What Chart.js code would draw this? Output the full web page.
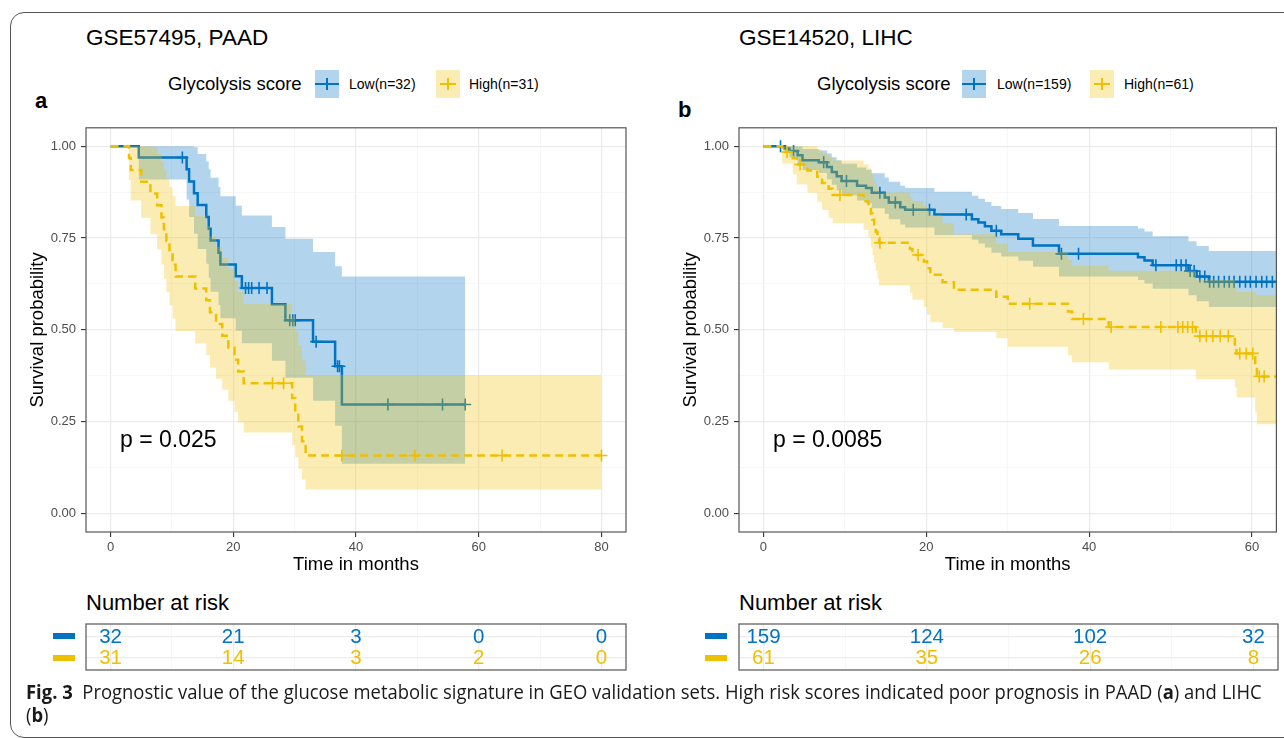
<!DOCTYPE html>
<html>
<head>
<meta charset="utf-8">
<script src="https://cdn.jsdelivr.net/npm/chart.js@4.4.0/dist/chart.umd.min.js"></script>
<style>
body { margin: 0; background: #fff; }
#page { position: relative; width: 1284px; height: 738px; overflow: hidden; font-family: "Liberation Sans", Arial, sans-serif; color: #000; }
.t { position: absolute; white-space: nowrap; line-height: 1; }
canvas { position: absolute; }
.key { position: absolute; width: 24px; height: 28px; }
.kh { position: absolute; left: 0; right: 0; top: 13px; height: 2.4px; }
.kv { position: absolute; left: 11px; top: 8px; width: 1.7px; height: 12px; }
.bar { position: absolute; width: 22px; height: 6px; }
.cap { position: absolute; white-space: nowrap; font-family: "Open Sans", sans-serif; font-size: 20px; line-height: 1; color: #1a1a1a; transform-origin: 0 0; }
</style>
</head>
<body>
<div id="page">
  <div style="position:absolute;left:10px;top:12px;width:1300px;height:724px;border:1px solid #555;border-radius:14px;"></div>

  <div class="t" style="left:86px;top:27px;font-size:22.5px;">GSE57495, PAAD</div>
  <div class="t" style="left:739px;top:27px;font-size:22.5px;">GSE14520, LIHC</div>

  <div class="t" style="left:168px;top:75px;font-size:18.5px;">Glycolysis score</div>
  <div class="key" style="left:315px;top:70px;background:rgba(0,115,194,0.3);"><div class="kh" style="background:#0073C2"></div><div class="kv" style="background:#0073C2"></div></div>
  <div class="t" style="left:349px;top:77px;font-size:14px;">Low(n=32)</div>
  <div class="key" style="left:436px;top:70px;background:rgba(239,192,0,0.3);"><div class="kh" style="left:4px;right:4px;background:#EFC000"></div><div class="kv" style="background:#EFC000"></div></div>
  <div class="t" style="left:469px;top:77px;font-size:14px;">High(n=31)</div>

  <div class="t" style="left:817px;top:75px;font-size:18.5px;">Glycolysis score</div>
  <div class="key" style="left:962px;top:70px;background:rgba(0,115,194,0.3);"><div class="kh" style="background:#0073C2"></div><div class="kv" style="background:#0073C2"></div></div>
  <div class="t" style="left:997px;top:77px;font-size:14px;">Low(n=159)</div>
  <div class="key" style="left:1090px;top:70px;background:rgba(239,192,0,0.3);"><div class="kh" style="left:4px;right:4px;background:#EFC000"></div><div class="kv" style="background:#EFC000"></div></div>
  <div class="t" style="left:1124px;top:77px;font-size:14px;">High(n=61)</div>

  <div class="t" style="left:35px;top:90px;font-size:22px;font-weight:bold;">a</div>
  <div class="t" style="left:678px;top:99px;font-size:22px;font-weight:bold;">b</div>

  <canvas id="kmA" width="640" height="461" style="left:0;top:115px;width:640px;height:461px;"></canvas>
  <canvas id="kmB" width="631" height="461" style="left:653px;top:115px;width:631px;height:461px;"></canvas>

  <div class="t" style="left:120px;top:428px;font-size:23px;">p = 0.025</div>
  <div class="t" style="left:773px;top:428px;font-size:23px;">p = 0.0085</div>

  <div class="t" style="left:86px;top:592px;font-size:22px;">Number at risk</div>
  <div class="t" style="left:739px;top:592px;font-size:22px;">Number at risk</div>
  <div class="bar" style="left:53px;top:633px;background:#0073C2;"></div>
  <div class="bar" style="left:53px;top:655px;background:#EFC000;"></div>
  <div class="bar" style="left:705px;top:633px;background:#0073C2;"></div>
  <div class="bar" style="left:705px;top:655px;background:#EFC000;"></div>

  <canvas id="riskA" width="640" height="92" style="left:0;top:590px;width:640px;height:92px;"></canvas>
  <canvas id="riskB" width="631" height="92" style="left:653px;top:590px;width:631px;height:92px;"></canvas>

  <div class="cap" id="cap1" style="left:26px;top:682px;"><b>Fig. 3</b>&nbsp; Prognostic value of the glucose metabolic signature in GEO validation sets. High risk scores indicated poor prognosis in PAAD (<b>a</b>) and LIHC</div>
  <div class="cap" id="cap2" style="left:26px;top:705px;">(<b>b</b>)</div>
</div>

<script>
// ---- panel a: GSE57495, PAAD ----
var aLowTime  = [0, 4.6, 12.4, 12.8, 13.6, 14.2, 15.6, 16.0, 16.3, 17.6, 17.9, 20.4, 21.4, 26.3, 28.5, 33.0, 36.6, 37.7];
var aLowSurv  = [1, .969, .937, .904, .872, .840, .807, .775, .743, .710, .678, .646, .614, .570, .526, .468, .401, .297];
var aLowUpper = [1, 1, 1, 1, .997, .979, .958, .937, .914, .889, .864, .838, .811, .780, .748, .712, .673, .645];
var aLowLower = [1, .909, .855, .807, .762, .720, .680, .641, .604, .568, .532, .498, .464, .416, .370, .307, .239, .136];
var aLowEnd = 57.8;
var aLowCensor = [11.7, 22.0, 22.5, 23.0, 24.2, 25.5, 29.2, 29.7, 30.1, 33.5, 37.0, 37.3, 45.2, 54.1, 57.8];

var aHighTime  = [0, 3.0, 3.3, 5.0, 6.5, 7.6, 8.3, 8.7, 9.1, 9.6, 10.1, 10.6, 13.8, 15.6, 16.2, 17.2, 18.2, 19.2, 20.2, 20.8, 21.7, 29.6, 30.1, 30.6, 31.2, 31.8];
var aHighSurv  = [1, .968, .935, .903, .871, .839, .806, .774, .742, .710, .677, .645, .613, .581, .548, .516, .484, .452, .419, .387, .355, .315, .276, .237, .197, .158];
var aHighUpper = [1, 1, 1, 1, .997, .979, .958, .936, .913, .889, .864, .837, .811, .783, .754, .726, .696, .666, .634, .603, .571, .534, .497, .459, .419, .377];
var aHighLower = [1, .908, .852, .805, .760, .719, .678, .640, .603, .567, .531, .497, .463, .431, .398, .367, .337, .307, .277, .248, .221, .186, .153, .122, .093, .066];
var aHighEnd = 80;
var aHighCensor = [26.4, 28.2, 37.7, 49.6, 63.8, 80];

// ---- panel b: GSE14520, LIHC ----
var bLowTime  = [0, 2.6, 3.2, 4.2, 4.8, 6.8, 7.8, 8.4, 9.0, 9.6, 11.5, 12.6, 13.3, 14.9, 15.4, 16.8, 17.4, 21.0, 25.6, 26.4, 27.2, 28.0, 29.2, 31.3, 33.1, 36.3, 46.0, 46.8, 47.8, 52.2, 53.2, 54.7];
var bLowSurv  = [1, .994, .987, .975, .962, .956, .943, .930, .918, .905, .892, .886, .873, .860, .847, .834, .827, .814, .801, .792, .782, .770, .760, .748, .730, .707, .698, .689, .676, .660, .645, .631];
var bLowUpper = [1, 1, 1, .999, .992, .988, .980, .970, .962, .952, .942, .936, .926, .915, .903, .892, .886, .876, .865, .857, .848, .837, .829, .818, .802, .783, .776, .768, .755, .741, .728, .715];
var bLowLower = [1, .982, .970, .951, .935, .927, .910, .895, .880, .866, .852, .845, .831, .816, .801, .787, .779, .758, .745, .735, .724, .710, .700, .688, .672, .645, .636, .626, .612, .594, .578, .562];
var bLowEnd = 63.5;
var bLowCensor = [2.1, 3.7, 7.4, 10.2, 14.3, 16.2, 18.4, 20.4, 24.9, 28.6, 36.6, 38.7, 48.2, 50.7, 51.3, 51.9, 52.4, 52.9, 53.6, 54.2, 54.8, 55.3, 55.9, 56.6, 57.2, 57.8, 58.5, 59.2, 59.8, 60.5, 61.2, 61.8, 62.5];

var bHighTime  = [0, 2.3, 3.6, 4.1, 5.4, 6.6, 7.2, 8.0, 8.5, 12.3, 12.9, 13.2, 13.4, 13.6, 13.8, 14.0, 14.2, 18.0, 18.3, 19.7, 20.1, 20.5, 22.0, 23.4, 28.6, 30.0, 37.4, 37.9, 42.4, 53.1, 57.9, 58.1, 60.4, 60.6];
var bHighSurv  = [1, .984, .967, .950, .934, .917, .900, .884, .867, .850, .834, .817, .800, .784, .767, .751, .737, .720, .704, .686, .668, .650, .630, .609, .590, .571, .550, .530, .508, .483, .460, .436, .405, .373];
var bHighUpper = [1, 1, 1, 1, 1, .991, .981, .972, .961, .950, .940, .928, .917, .906, .894, .883, .874, .862, .851, .838, .825, .812, .790, .760, .735, .712, .690, .675, .661, .637, .617, .603, .598, .594];
var bHighLower = [1, .953, .923, .896, .873, .849, .826, .805, .790, .772, .752, .725, .703, .683, .661, .640, .621, .601, .582, .562, .541, .521, .505, .495, .477, .454, .430, .412, .392, .366, .343, .316, .276, .243];
var bHighEnd = 63.5;
var bHighCensor = [2.9, 4.5, 9.4, 14.3, 19.0, 32.7, 39.3, 42.7, 48.8, 50.9, 51.5, 52.1, 52.7, 53.6, 54.4, 55.2, 56.1, 57.1, 58.5, 59.3, 60.1, 60.9, 61.5];

// ---- axes and risk tables ----
var yTicks = [0, 0.25, 0.5, 0.75, 1];
var xTicksA = [0, 20, 40, 60, 80];
var xTicksB = [0, 20, 40, 60];
var riskTimesA = [0, 20, 40, 60, 80];
var riskLowA = [32, 21, 3, 0, 0];
var riskHighA = [31, 14, 3, 2, 0];
var riskTimesB = [0, 20, 40, 60];
var riskLowB = [159, 124, 102, 32];
var riskHighB = [61, 35, 26, 8];

var FONT = '"Liberation Sans", Arial, sans-serif';
var BLUE = '#0073C2', YELLOW = '#EFC000';
var BLUE_BAND = 'rgba(0,115,194,0.3)', YELLOW_BAND = 'rgba(239,192,0,0.3)';

// major ticks plus the minor lines half way between them
function withMinor(major) {
    var out = [];
    major.forEach(function (v, i) {
        out.push(v);
        if (i < major.length - 1) out.push((v + major[i + 1]) / 2);
    });
    return out;
}

function steps(times, vals, end) {
    var pts = times.map(function (t, i) { return {x: t, y: vals[i]}; });
    pts.push({x: end, y: vals[vals.length - 1]});
    return pts;
}
function survAt(times, surv, t) {
    var s = surv[0];
    for (var i = 0; i < times.length; i++) {
        if (times[i] <= t) s = surv[i];
    }
    return s;
}
function marks(times, surv, cens) {
    return cens.map(function (t) { return {x: t, y: survAt(times, surv, t)}; });
}

function groupSets(time, surv, upper, lower, end, cens, color, band, dashed, base) {
    var none = 'rgba(0,0,0,0)';
    return [
        {data: steps(time, upper, end), stepped: true, borderColor: none, borderWidth: 0, pointRadius: 0, fill: false, order: base + 2},
        {data: steps(time, lower, end), stepped: true, borderColor: none, borderWidth: 0, pointRadius: 0, fill: '-1', backgroundColor: band, order: base + 2},
        {data: steps(time, surv, end), stepped: true, borderColor: color, borderWidth: 2.5, borderDash: dashed ? [8, 5] : [], pointRadius: 0, fill: false, order: base + 1},
        {data: marks(time, surv, cens), showLine: false, pointStyle: 'cross', pointRadius: 6, pointBorderWidth: 1.6, borderColor: color, backgroundColor: color, order: base}
    ];
}

var framePlugin = {
    id: 'frame',
    afterDraw: function (chart) {
        var a = chart.chartArea, c = chart.ctx;
        c.save();
        c.strokeStyle = '#555';
        c.lineWidth = 1.2;
        c.strokeRect(a.left, a.top, a.right - a.left, a.bottom - a.top);
        c.restore();
    }
};

var riskTextPlugin = {
    id: 'riskText',
    afterDraw: function (chart, args, opts) {
        var c = chart.ctx, xs = chart.scales.x, ys = chart.scales.y;
        c.save();
        c.font = '20.5px ' + FONT;
        c.textAlign = 'center';
        c.textBaseline = 'middle';
        opts.rows.forEach(function (row) {
            c.fillStyle = row.color;
            row.values.forEach(function (v, i) {
                c.fillText(String(v), xs.getPixelForValue(opts.times[i]), ys.getPixelForValue(row.y) + 1);
            });
        });
        c.restore();
    }
};

function gridOpts(major) {
    function isMajor(c) { return c.tick && major.indexOf(c.tick.value) >= 0; }
    return {
        color: function (c) { return isMajor(c) ? '#EBEBEB' : '#F3F3F3'; },
        lineWidth: function (c) { return isMajor(c) ? 1.2 : 0.7; },
        tickColor: function (c) { return isMajor(c) ? '#333' : 'rgba(0,0,0,0)'; },
        tickWidth: 1.1,
        tickLength: 5
    };
}

function kmChart(id, xMin, xMax, xTicks, sets, padRight) {
    var xGrid = withMinor(xTicks), yGrid = withMinor(yTicks);
    return new Chart(document.getElementById(id), {
        type: 'line',
        data: {datasets: sets},
        options: {
            responsive: false,
            animation: false,
            events: [],
            layout: {padding: {left: 14, right: padRight, top: 10, bottom: 0}},
            plugins: {legend: {display: false}, tooltip: {enabled: false}},
            scales: {
                x: {
                    type: 'linear', min: xMin, max: xMax,
                    afterBuildTicks: function (s) { s.ticks = xGrid.map(function (v) { return {value: v}; }); },
                    afterFit: function (s) { s.height = 44; },
                    ticks: {
                        autoSkip: false, maxRotation: 0, padding: 3, color: '#4D4D4D',
                        font: {family: FONT, size: 13},
                        callback: function (v) { return xTicks.indexOf(v) >= 0 ? String(v) : ''; }
                    },
                    grid: gridOpts(xTicks),
                    border: {display: false},
                    title: {display: true, text: 'Time in months', color: '#000', font: {family: FONT, size: 18.5}, padding: {top: 0, bottom: 0}}
                },
                y: {
                    type: 'linear', min: -0.05, max: 1.05,
                    afterBuildTicks: function (s) { s.ticks = yGrid.map(function (v) { return {value: v}; }); },
                    afterFit: function (s) { s.width = 72; },
                    ticks: {
                        autoSkip: false, padding: 5, color: '#4D4D4D',
                        font: {family: FONT, size: 13},
                        callback: function (v) { return yTicks.indexOf(v) >= 0 ? v.toFixed(2) : ''; }
                    },
                    grid: gridOpts(yTicks),
                    border: {display: false},
                    title: {display: true, text: 'Survival probability', color: '#000', font: {family: FONT, size: 18.5}, padding: {top: 13, bottom: 0}}
                }
            }
        },
        plugins: [framePlugin]
    });
}

function riskChart(id, xMin, xMax, xTicks, times, low, high, padRight) {
    var xGrid = withMinor(xTicks);
    return new Chart(document.getElementById(id), {
        type: 'line',
        data: {datasets: []},
        options: {
            responsive: false,
            animation: false,
            events: [],
            layout: {padding: {left: 86, right: padRight, top: 34, bottom: 12}},
            plugins: {
                legend: {display: false}, tooltip: {enabled: false},
                riskText: {times: times, rows: [{y: 2, values: low, color: BLUE}, {y: 1, values: high, color: YELLOW}]}
            },
            scales: {
                x: {
                    type: 'linear', min: xMin, max: xMax,
                    afterBuildTicks: function (s) { s.ticks = xGrid.map(function (v) { return {value: v}; }); },
                    afterFit: function (s) { s.height = 0; },
                    ticks: {display: false},
                    grid: {
                        color: function (c) { return c.tick && xTicks.indexOf(c.tick.value) >= 0 ? '#EBEBEB' : '#F3F3F3'; },
                        lineWidth: function (c) { return c.tick && xTicks.indexOf(c.tick.value) >= 0 ? 1.2 : 0.7; },
                        drawTicks: false
                    },
                    border: {display: false}
                },
                y: {
                    type: 'linear', min: 0.4, max: 2.6,
                    afterBuildTicks: function (s) { s.ticks = [{value: 1}, {value: 2}]; },
                    afterFit: function (s) { s.width = 0; },
                    ticks: {display: false},
                    grid: {color: '#EBEBEB', lineWidth: 1.2, drawTicks: false},
                    border: {display: false}
                }
            }
        },
        plugins: [framePlugin, riskTextPlugin]
    });
}

var setsA = groupSets(aLowTime, aLowSurv, aLowUpper, aLowLower, aLowEnd, aLowCensor, BLUE, BLUE_BAND, false, 4)
    .concat(groupSets(aHighTime, aHighSurv, aHighUpper, aHighLower, aHighEnd, aHighCensor, YELLOW, YELLOW_BAND, true, 1));
var setsB = groupSets(bLowTime, bLowSurv, bLowUpper, bLowLower, bLowEnd, bLowCensor, BLUE, BLUE_BAND, false, 4)
    .concat(groupSets(bHighTime, bHighSurv, bHighUpper, bHighLower, bHighEnd, bHighCensor, YELLOW, YELLOW_BAND, true, 1));

kmChart('kmA', -4, 84, xTicksA, setsA, 14);
kmChart('kmB', -3, 63, xTicksB, setsB, 6);
riskChart('riskA', -4, 84, xTicksA, riskTimesA, riskLowA, riskHighA, 14);
riskChart('riskB', -3, 63, xTicksB, riskTimesB, riskLowB, riskHighB, 6);

// the caption is set in a narrower face in the source; squeeze it to the same line length
var cap1 = document.getElementById('cap1'), cap2 = document.getElementById('cap2');
var squeeze = Math.min(1, 1236 / cap1.offsetWidth);
cap1.style.transform = 'scaleX(' + squeeze + ')';
cap2.style.transform = 'scaleX(' + squeeze + ')';
</script>
</body>
</html>
